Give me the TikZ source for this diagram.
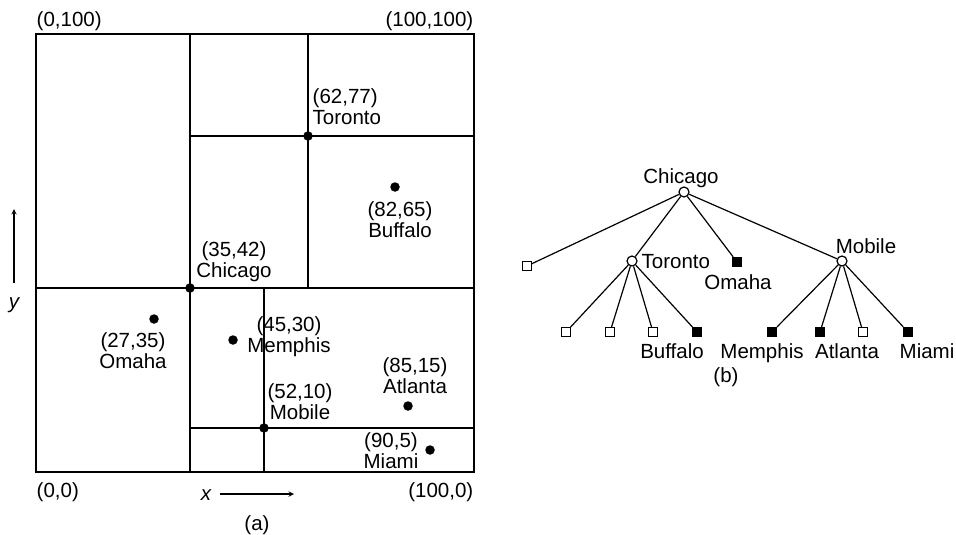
\documentclass[tikz,border=0pt]{standalone}
\usepackage{fontspec}
\setmainfont{Liberation Sans}
\begin{document}
\begin{tikzpicture}[x=1pt,y=-1pt,line width=1.4pt,
  lbl/.style={font=\fontsize{20.5}{21}\selectfont,inner sep=0pt,align=center},
  tl/.style={font=\fontsize{20.5}{21}\selectfont,inner sep=0pt,anchor=base},
  dot/.style={circle,fill=black,inner sep=0pt,minimum size=9.5pt},
  inode/.style={circle,draw,fill=white,inner sep=0pt,minimum size=10pt,line width=1.2pt},
  eleaf/.style={rectangle,draw,fill=white,inner sep=0pt,minimum size=8.5pt,line width=1.2pt},
  fleaf/.style={rectangle,draw,fill=black,inner sep=0pt,minimum size=9pt,line width=1.2pt}]
\useasboundingbox (0,0) rectangle (956,535);
% (a) region
\coordinate (sw) at (36,472);
\coordinate (ne) at (474,34);
\draw (sw) rectangle (ne);
\coordinate (c1) at (190,34); \coordinate (c2) at (190,472);
\draw (c1) -- (c2);
\coordinate (h1) at (36,288); \coordinate (h2) at (474,288);
\draw (h1) -- (h2);
\coordinate (t1) at (308,34); \coordinate (t2) at (308,288);
\draw (t1) -- (t2);
\coordinate (t3) at (190,136); \coordinate (t4) at (474,136);
\draw (t3) -- (t4);
\coordinate (m1) at (264,288); \coordinate (m2) at (264,472);
\draw (m1) -- (m2);
\coordinate (m3) at (190,428); \coordinate (m4) at (474,428);
\draw (m3) -- (m4);
% points
\node[dot] (pchi) at (190,288) {};
\node[dot] (ptor) at (308,136) {};
\node[dot] (pbuf) at (395,187) {};
\node[dot] (poma) at (154,319) {};
\node[dot] (pmem) at (233,340) {};
\node[dot] (patl) at (408,406) {};
\node[dot] (pmia) at (430,450) {};
\node[dot] (pmob) at (264,428) {};
% labels
\node[lbl,align=left,anchor=west] (ltor) at (312,107) {(62,77)\\Toronto};
\node[lbl] (lchi) at (234,262) {(35,42)\\Chicago};
\node[lbl] (lbuf) at (400,220) {(82,65)\\Buffalo};
\node[lbl] (loma) at (133,351) {(27,35)\\Omaha};
\node[lbl] (lmem) at (289,337) {(45,30)\\Memphis};
\node[lbl] (latl) at (415,376) {(85,15)\\Atlanta};
\node[lbl] (lmob) at (300,402) {(52,10)\\Mobile};
\node[lbl] (lmia) at (391,451) {(90,5)\\Miami};
\node[lbl,anchor=west] (l0100) at (36,21) {(0,100)};
\node[lbl,anchor=east] (l100100) at (474,21) {(100,100)};
\node[lbl,anchor=west] (l00) at (36,492) {(0,0)};
\node[lbl,anchor=east] (l1000) at (474,492) {(100,0)};
\node[lbl,font=\fontsize{20.5}{21}\selectfont\itshape] (xl) at (206,495) {x};
\coordinate (xa1) at (220,494); \coordinate (xa2) at (294,494);
\draw[-stealth] (xa1) -- (xa2);
\node[lbl,font=\fontsize{20.5}{21}\selectfont\itshape] (yl) at (14,305) {y};
\coordinate (ya1) at (14,283); \coordinate (ya2) at (14,209);
\draw[-stealth] (ya1) -- (ya2);
\node[lbl] (capa) at (257,525) {(a)};
% (b) tree
\node[inode] (chi) at (684,192) {};
\node[inode] (tor) at (632,261) {};
\node[inode] (mob) at (842,261) {};
\node[eleaf] (e0) at (527,266) {};
\node[fleaf] (oma) at (737,262) {};
\node[eleaf] (e1) at (566,332) {};
\node[eleaf] (e2) at (610,332) {};
\node[eleaf] (e3) at (653,332) {};
\node[fleaf] (buf) at (697,332) {};
\node[fleaf] (mem) at (772,332) {};
\node[fleaf] (atl) at (820,332) {};
\node[eleaf] (e4) at (863,332) {};
\node[fleaf] (mia) at (908,332) {};
\begin{scope}[line width=1.2pt]
\draw (chi) -- (e0);
\draw (chi) -- (tor);
\draw (chi) -- (oma);
\draw (chi) -- (mob);
\draw (tor) -- (e1);
\draw (tor) -- (e2);
\draw (tor) -- (e3);
\draw (tor) -- (buf);
\draw (mob) -- (mem);
\draw (mob) -- (atl);
\draw (mob) -- (e4);
\draw (mob) -- (mia);
\end{scope}
\node[tl] (tchi) at (681,183) {Chicago};
\node[tl,anchor=base west] (ttor) at (641,268) {Toronto};
\node[tl] (toma) at (738,289) {Omaha};
\node[tl] (tmob) at (866,253) {Mobile};
\node[tl] (tbuf) at (672,358) {Buffalo};
\node[tl] (tmem) at (762,358) {Memphis};
\node[tl] (tatl) at (847,358) {Atlanta};
\node[tl] (tmia) at (927,358) {Miami};
\node[lbl] (capb) at (726,377) {(b)};
\end{tikzpicture}
\end{document}
